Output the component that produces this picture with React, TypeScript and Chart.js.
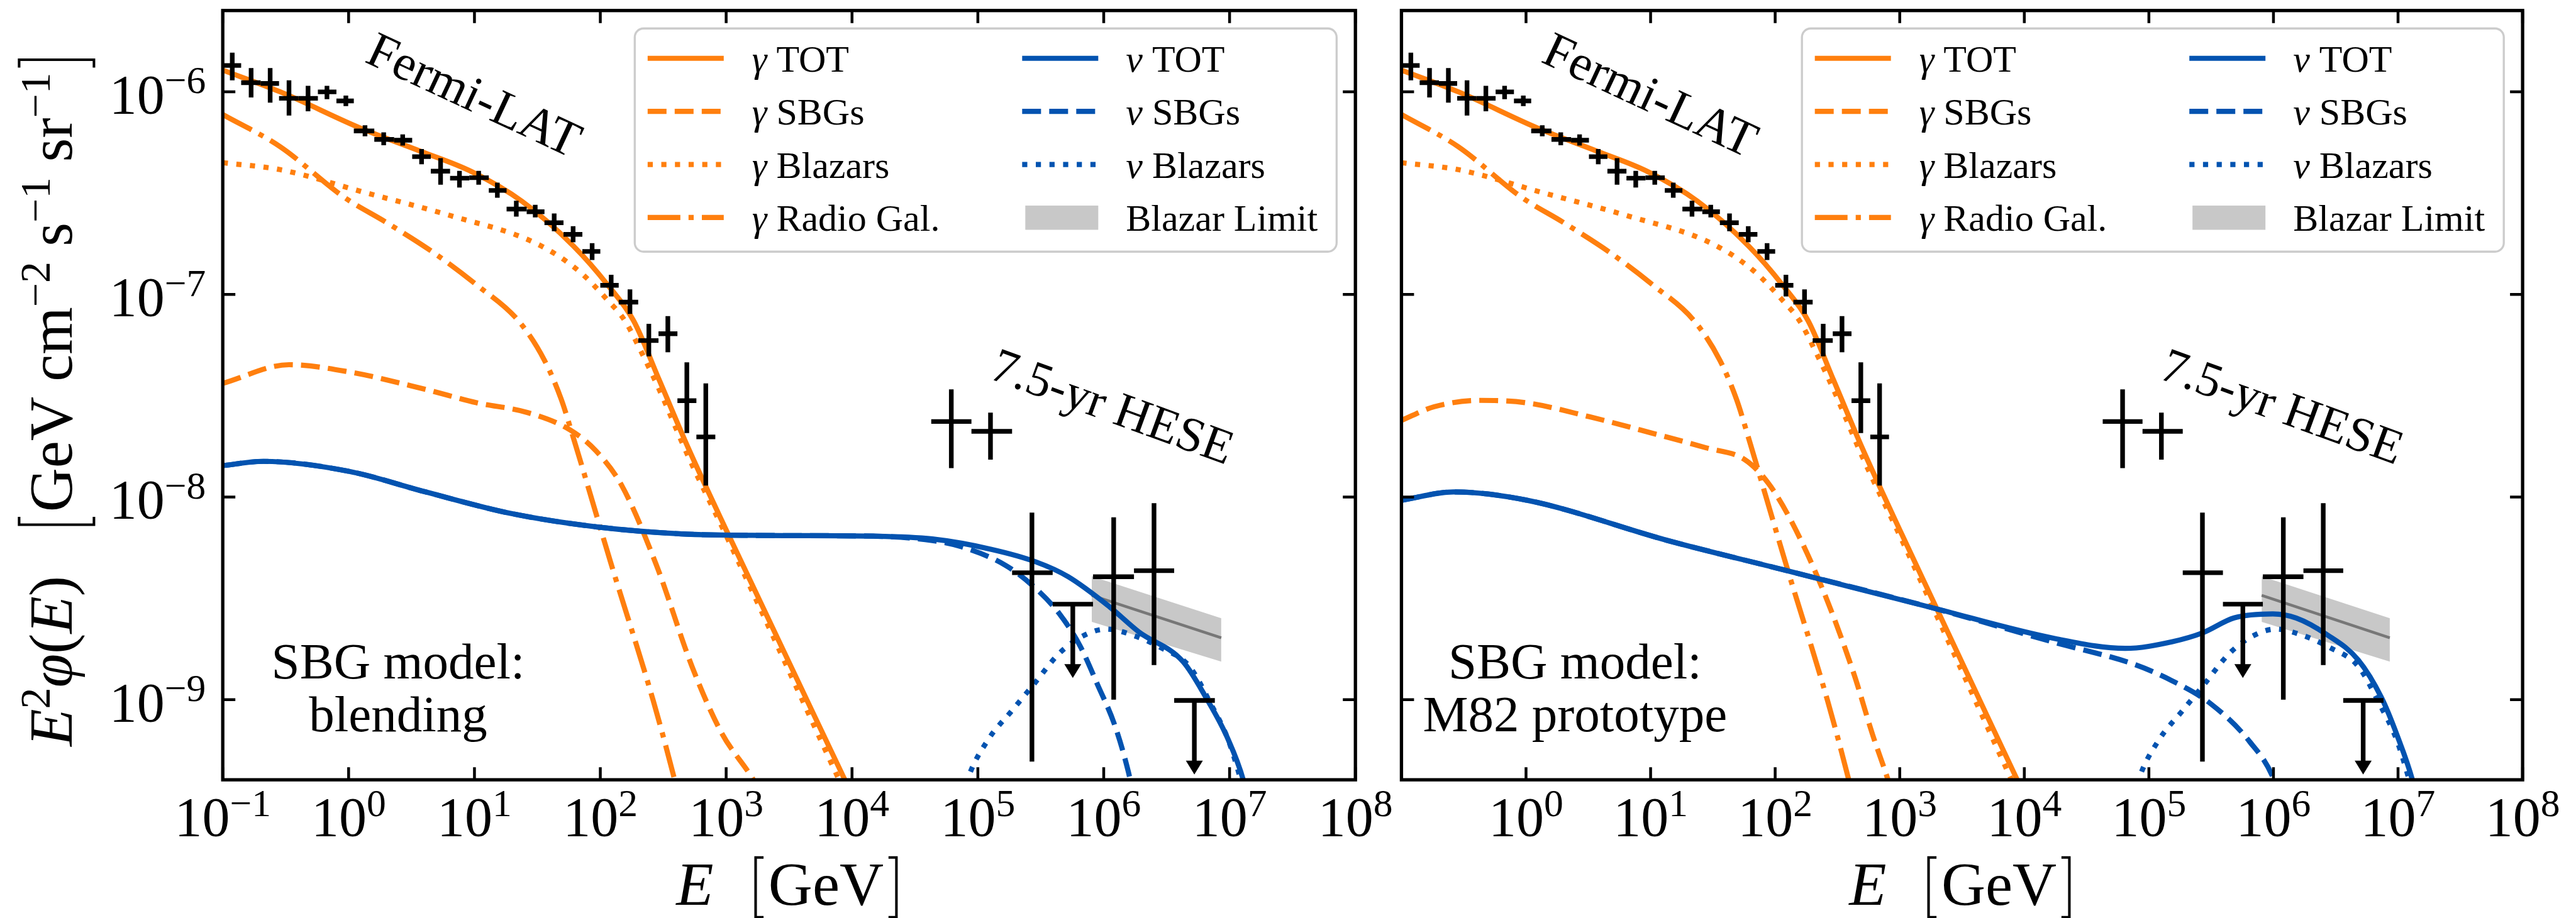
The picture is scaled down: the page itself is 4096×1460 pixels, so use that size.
import { useEffect, useRef } from "react";
import { Chart, registerables } from "chart.js";

Chart.register(...registerables);

const FONT = '"Liberation Serif", "Times New Roman", serif';
const ORANGE = "#ff7f0e";
const BLUE = "#0353b0";
const BAND_FILL = "#c8c8c8";
const BAND_LINE = "#777777";
const LINE_W = 8.2;
const ERR_W = 7.4;
const SPINE_W = 5.3;
const TICK_LEN = 20;
const TICK_W = 4.5;
const HEAD_W = 27;
const HEAD_H = 22;
const DASHED = [30, 13];
const DOTTED = [8.2, 13.5];
const DASHDOT = [52, 13, 8.2, 13];

// Axis ranges and decade ticks
const xRange = [1e-1, 1e8];
const yRange = [4.02e-10, 2.52e-6];
const xTickPowers = [-1, 0, 1, 2, 3, 4, 5, 6, 7, 8];
const yTickPowers = [-9, -8, -7, -6];

// Gamma-ray model curves: E [GeV] and E^2 phi [GeV cm^-2 s^-1 sr^-1]
const gammaTotE = [0.1, 0.286, 1.25, 3.73, 9.55, 23.9, 61.4, 115, 184, 294, 501, 1035, 8770, 15850];
const gammaTotF = [1.28e-6, 1.0e-6, 6.61e-7, 5.09e-7, 4.03e-7, 2.88e-7, 1.73e-7, 1.11e-7, 7.41e-8, 3.78e-8, 1.74e-8, 6.58e-9, 4.02e-10, 1.86e-10];

const gammaBlazarE = [0.1, 0.286, 1.36, 6.44, 30.7, 67.0, 115, 157, 214, 294, 501, 1035, 7943, 15850];
const gammaBlazarF = [4.47e-7, 4.13e-7, 3.18e-7, 2.45e-7, 1.79e-7, 1.31e-7, 9.33e-8, 7.41e-8, 5.13e-8, 3.39e-8, 1.58e-8, 6.17e-9, 3.98e-10, 1.58e-10];

const gammaRadioE = [0.1, 0.286, 0.92, 2.01, 4.72, 10.3, 22.5, 36.0, 49.0, 61.4, 92.3, 123, 263, 388, 562];
const gammaRadioF = [7.73e-7, 5.36e-7, 3.02e-7, 2.26e-7, 1.61e-7, 1.12e-7, 7.38e-8, 4.73e-8, 3.03e-8, 1.94e-8, 8.32e-9, 4.59e-9, 9.91e-10, 4.06e-10, 1.58e-10];

const gammaSbgBlendE = [0.1, 0.337, 1.0, 4.08, 10.4, 26.5, 57.8, 92.3, 148, 280, 537, 912, 1630, 2512];
const gammaSbgBlendF = [3.64e-8, 4.5e-8, 4.15e-8, 3.4e-8, 2.92e-8, 2.61e-8, 2.14e-8, 1.69e-8, 1.14e-8, 4.59e-9, 1.45e-9, 6.92e-10, 4.06e-10, 2.51e-10];

const gammaSbgM82E = [0.1, 0.183, 0.433, 1.0, 3.23, 10.2, 27.8, 57.0, 88.1, 135, 239, 425, 607, 809, 1122];
const gammaSbgM82F = [2.39e-8, 2.79e-8, 3.0e-8, 2.92e-8, 2.49e-8, 2.07e-8, 1.75e-8, 1.53e-8, 1.17e-8, 7.59e-9, 3.54e-9, 1.36e-9, 6.68e-10, 3.98e-10, 2.0e-10];

// Neutrino model curves
const nuTotBlendE = [0.1, 0.211, 1.0, 4.08, 19.4, 92.3, 440, 2089, 14750, 43450, 1.28e5, 2.88e5, 5.2e5, 1.107e6, 1.9e6, 4.27e6, 6.58e6, 9.59e6, 1.29e7, 1.585e7];
const nuTotBlendF = [1.43e-8, 1.5e-8, 1.34e-8, 1.06e-8, 8.3e-9, 7.13e-9, 6.58e-9, 6.46e-9, 6.41e-9, 6.21e-9, 5.52e-9, 4.79e-9, 4.05e-9, 2.88e-9, 2.16e-9, 1.54e-9, 1.01e-9, 6.5e-10, 3.98e-10, 2.24e-10];

const nuSbgBlendE = [0.1, 0.211, 1.0, 4.08, 19.4, 92.3, 440, 2089, 14750, 43450, 74500, 1.67e5, 2.88e5, 4.43e5, 6.46e5, 8.91e5, 1.23e6, 1.57e6, 1.905e6];
const nuSbgBlendF = [1.43e-8, 1.5e-8, 1.34e-8, 1.06e-8, 8.3e-9, 7.13e-9, 6.58e-9, 6.46e-9, 6.41e-9, 6.1e-9, 5.68e-9, 4.59e-9, 3.54e-9, 2.66e-9, 1.85e-9, 1.19e-9, 7.41e-10, 4.4e-10, 2.51e-10];

const nuTotM82E = [0.1, 0.262, 1.02, 13.6, 117, 1786, 17780, 64600, 1.53e5, 2.72e5, 4.82e5, 9.89e5, 1.52e6, 2.7e6, 4.79e6, 7.38e6, 9.84e6, 1.31e7, 1.585e7];
const nuTotM82F = [9.64e-9, 1.06e-8, 9.64e-9, 6.11e-9, 4.37e-9, 2.85e-9, 2.0e-9, 1.79e-9, 1.93e-9, 2.14e-9, 2.53e-9, 2.65e-9, 2.53e-9, 2.09e-9, 1.57e-9, 1.02e-9, 6.65e-10, 3.98e-10, 2.4e-10];

const nuSbgM82E = [0.1, 0.262, 1.02, 13.6, 117, 1786, 17780, 74650, 1.53e5, 3.13e5, 6.43e5, 1.016e6, 1.26e6];
const nuSbgM82F = [9.64e-9, 1.06e-8, 9.64e-9, 6.11e-9, 4.37e-9, 2.85e-9, 1.91e-9, 1.5e-9, 1.24e-9, 9.55e-10, 6.21e-10, 3.98e-10, 2.51e-10];

const nuBlazarE = [70800, 83200, 1.2e5, 1.86e5, 2.72e5, 4.47e5, 6.92e5, 1.047e6, 1.7e6, 2.82e6, 4.79e6, 7.08e6, 9.77e6, 1.26e7, 1.51e7];
const nuBlazarF = [2.82e-10, 4.07e-10, 6.31e-10, 8.81e-10, 1.17e-9, 1.7e-9, 2.07e-9, 2.23e-9, 2.08e-9, 1.81e-9, 1.46e-9, 9.55e-10, 6.31e-10, 3.8e-10, 2.51e-10];

// Blazar limit band (power law)
const blazarLimitE = [8.04e5, 8.59e6];
const blazarLimitF = [3.27e-9, 2.02e-9];
const blazarLimitLo = [2.42e-9, 1.54e-9];
const blazarLimitHi = [4.06e-9, 2.52e-9];

// Fermi-LAT isotropic gamma-ray background
const fermiBinLo = [0.1, 0.14, 0.2, 0.28, 0.4, 0.57, 0.8, 1.1, 1.6, 2.3, 3.2, 4.5, 6.4, 9.1, 13, 18, 26, 36, 51, 72, 100, 140, 200, 290, 410, 580];
const fermiBinHi = [0.14, 0.2, 0.28, 0.4, 0.57, 0.8, 1.1, 1.6, 2.3, 3.2, 4.5, 6.4, 9.1, 13, 18, 26, 36, 51, 72, 100, 140, 200, 290, 410, 580, 820];
const fermiE = [0.119, 0.168, 0.238, 0.336, 0.476, 0.673, 0.951, 1.35, 1.9, 2.69, 3.8, 5.38, 7.6, 10.8, 15.2, 21.5, 30.4, 43.0, 60.8, 86.1, 122, 172, 243, 344, 487, 689];
const fermiF = [1.35e-6, 1.11e-6, 1.1e-6, 9.29e-7, 9.29e-7, 1.0e-6, 9.02e-7, 6.41e-7, 5.82e-7, 5.77e-7, 4.79e-7, 4.06e-7, 3.75e-7, 3.77e-7, 3.26e-7, 2.64e-7, 2.56e-7, 2.26e-7, 1.98e-7, 1.63e-7, 1.11e-7, 9.16e-8, 5.92e-8, 6.4e-8, 2.99e-8, 1.98e-8];
const fermiFLo = [1.14e-6, 9.38e-7, 8.85e-7, 7.64e-7, 8.02e-7, 9.2e-7, 8.51e-7, 6.03e-7, 5.45e-7, 5.43e-7, 4.39e-7, 3.48e-7, 3.37e-7, 3.48e-7, 3.0e-7, 2.42e-7, 2.4e-7, 2.05e-7, 1.81e-7, 1.48e-7, 9.77e-8, 8.02e-8, 4.95e-8, 5.18e-8, 2.07e-8, 1.14e-8];
const fermiFHi = [1.56e-6, 1.31e-6, 1.31e-6, 1.14e-6, 1.07e-6, 1.07e-6, 9.59e-7, 6.84e-7, 6.31e-7, 6.17e-7, 5.22e-7, 4.71e-7, 4.07e-7, 4.07e-7, 3.56e-7, 2.9e-7, 2.77e-7, 2.51e-7, 2.17e-7, 1.79e-7, 1.25e-7, 1.06e-7, 7.16e-8, 7.82e-8, 4.62e-8, 3.64e-8];

// IceCube 7.5-yr HESE unfolded flux (upper limits: FLo holds the arrow tip)
const heseBinLo = [4.26e4, 8.89e4, 1.87e5, 3.93e5, 8.22e5, 1.74e6, 3.63e6];
const heseBinHi = [8.89e4, 1.87e5, 3.93e5, 8.22e5, 1.74e6, 3.63e6, 7.64e6];
const heseE = [6.15e4, 1.26e5, 2.69e5, 5.68e5, 1.2e6, 2.51e6, 5.25e6];
const heseF = [2.36e-8, 2.11e-8, 4.23e-9, 2.96e-9, 4.04e-9, 4.33e-9, 9.91e-10];
const heseFLo = [1.39e-8, 1.53e-8, 4.94e-10, 1.28e-9, 1.0e-9, 1.48e-9, 4.27e-10];
const heseFHi = [3.4e-8, 2.61e-8, 8.38e-9, null, 7.94e-9, 9.33e-9, null];
const heseUpperLimit = [false, false, false, true, false, false, true];

const CANVAS_W = 4096;
const CANVAS_H = 1460;
const PLOT_TOP = 16.75;
const PLOT_BOTTOM = 1240.2;

type Seg = { t?: string; it?: boolean; sup?: boolean; br?: "[" | "]"; gap?: number };

function fontFor(s: Seg, size: number) {
  const px = s.sup ? size * 0.7 : size;
  return `${s.it ? "italic " : ""}${px}px ${FONT}`;
}

function segWidth(ctx: CanvasRenderingContext2D, s: Seg, size: number) {
  if (s.gap) return s.gap * size;
  if (s.br) return 0.3 * size;
  ctx.font = fontFor(s, size);
  return ctx.measureText(s.t || "").width;
}

function drawRich(
  ctx: CanvasRenderingContext2D,
  segs: Seg[],
  x: number,
  y: number,
  size: number,
  align: "left" | "center" | "right",
  brUp = 0.75 * size,
  brDown = 0.2 * size
) {
  const ws = segs.map((s) => segWidth(ctx, s, size));
  const total = ws.reduce((a, b) => a + b, 0);
  let cx = align === "left" ? x : align === "right" ? x - total : x - total / 2;
  ctx.textAlign = "left";
  ctx.textBaseline = "alphabetic";
  ctx.fillStyle = "#000";
  segs.forEach((s, i) => {
    if (s.br) {
      const stem = s.br === "[" ? cx + 0.09 * size : cx + 0.21 * size;
      const serif = s.br === "[" ? 0.13 * size : -0.13 * size;
      ctx.beginPath();
      ctx.moveTo(stem + serif, y - brUp);
      ctx.lineTo(stem, y - brUp);
      ctx.lineTo(stem, y + brDown);
      ctx.lineTo(stem + serif, y + brDown);
      ctx.lineWidth = 0.042 * size;
      ctx.strokeStyle = "#000";
      ctx.lineJoin = "miter";
      ctx.setLineDash([]);
      ctx.stroke();
    } else if (s.t) {
      ctx.font = fontFor(s, size);
      ctx.fillText(s.t, cx, s.sup ? y - 0.36 * size : y);
    }
    cx += ws[i];
  });
  return total;
}

function powerLabel(p: number): Seg[] {
  return [{ t: "10" }, { t: p < 0 ? "\u2212" + -p : String(p), sup: true }];
}

function labelSegs(label: string): Seg[] {
  if (label.startsWith("\u03b3") || label.startsWith("\u03bd")) {
    return [{ t: label[0], it: true }, { t: label.slice(1) }];
  }
  return [{ t: label }];
}

function drawErrorBars(ctx: CanvasRenderingContext2D, xs: any, ys: any, ds: any) {
  const eb = ds.errorBars;
  ctx.strokeStyle = "#000";
  ctx.fillStyle = "#000";
  ctx.lineWidth = ERR_W;
  ctx.lineCap = "butt";
  ctx.setLineDash([]);
  ds.data.forEach((pt: any, i: number) => {
    const px = xs.getPixelForValue(pt.x);
    const py = ys.getPixelForValue(pt.y);
    ctx.beginPath();
    ctx.moveTo(xs.getPixelForValue(eb.xLo[i]), py);
    ctx.lineTo(xs.getPixelForValue(eb.xHi[i]), py);
    if (eb.upper && eb.upper[i]) {
      const tip = ys.getPixelForValue(eb.yLo[i]);
      ctx.moveTo(px, py);
      ctx.lineTo(px, tip - HEAD_H + 2);
      ctx.stroke();
      ctx.beginPath();
      ctx.moveTo(px - HEAD_W / 2, tip - HEAD_H);
      ctx.lineTo(px + HEAD_W / 2, tip - HEAD_H);
      ctx.lineTo(px, tip);
      ctx.closePath();
      ctx.fill();
    } else {
      ctx.moveTo(px, ys.getPixelForValue(eb.yLo[i]));
      ctx.lineTo(px, ys.getPixelForValue(eb.yHi[i]));
      ctx.stroke();
    }
  });
}

const legendColumns = [
  ["\u03b3 TOT", "\u03b3 SBGs", "\u03b3 Blazars", "\u03b3 Radio Gal."],
  ["\u03bd TOT", "\u03bd SBGs", "\u03bd Blazars", "Blazar Limit"],
];

function drawLegend(ctx: CanvasRenderingContext2D, chart: any) {
  const a = chart.chartArea;
  const boxW = 1116;
  const boxH = 355;
  const bx = a.right - 29.9 - boxW;
  const by = a.top + 28.5;
  const r = 14;
  ctx.save();
  ctx.beginPath();
  ctx.moveTo(bx + r, by);
  ctx.arcTo(bx + boxW, by, bx + boxW, by + boxH, r);
  ctx.arcTo(bx + boxW, by + boxH, bx, by + boxH, r);
  ctx.arcTo(bx, by + boxH, bx, by, r);
  ctx.arcTo(bx, by, bx + boxW, by, r);
  ctx.closePath();
  ctx.fillStyle = "rgba(255,255,255,0.8)";
  ctx.fill();
  ctx.lineWidth = 3.3;
  ctx.strokeStyle = "#cccccc";
  ctx.setLineDash([]);
  ctx.stroke();

  const colHandle = [
    [20.5, 141.5],
    [616, 737],
  ];
  const colText = [186.5, 781];
  const datasets = chart.data.datasets;
  legendColumns.forEach((col, c) => {
    col.forEach((label, rIdx) => {
      const ds = datasets.find((d: any) => d.label === label);
      if (!ds) return;
      const yc = by + 47.5 + rIdx * 84.4;
      const [h0, h1] = colHandle[c];
      if (ds.legendPatch) {
        ctx.fillStyle = ds.backgroundColor;
        ctx.fillRect(bx + h0 + 5, yc - 19, h1 - h0 - 5, 38.5);
      } else {
        ctx.beginPath();
        ctx.setLineDash(ds.borderDash || []);
        ctx.lineDashOffset = 0;
        ctx.lineCap = "butt";
        ctx.lineWidth = ds.borderWidth;
        ctx.strokeStyle = ds.borderColor;
        ctx.moveTo(bx + h0, yc);
        ctx.lineTo(bx + h1, yc);
        ctx.stroke();
        ctx.setLineDash([]);
      }
      drawRich(ctx, labelSegs(label), bx + colText[c], yc + 21, 60, "left");
    });
  });
  ctx.restore();
}

function makeDecorPlugin(spec: any) {
  return {
    id: "panelDecor",
    afterDatasetsDraw(chart: any) {
      const { ctx, chartArea: a, scales } = chart;
      const xs = scales.x;
      const ys = scales.y;
      const W = a.right - a.left;
      const H = a.bottom - a.top;

      ctx.save();
      ctx.beginPath();
      ctx.rect(a.left, a.top, W, H);
      ctx.clip();
      chart.data.datasets.forEach((ds: any) => {
        if (ds.errorBars) drawErrorBars(ctx, xs, ys, ds);
      });
      ctx.restore();

      ctx.save();
      // frame
      ctx.setLineDash([]);
      ctx.strokeStyle = "#000";
      ctx.lineWidth = SPINE_W;
      ctx.lineJoin = "miter";
      ctx.strokeRect(a.left, a.top, W, H);

      // inward ticks on all four sides
      ctx.lineWidth = TICK_W;
      ctx.lineCap = "butt";
      ctx.beginPath();
      xTickPowers.forEach((p) => {
        const x = xs.getPixelForValue(Math.pow(10, p));
        ctx.moveTo(x, a.bottom);
        ctx.lineTo(x, a.bottom - TICK_LEN);
        ctx.moveTo(x, a.top);
        ctx.lineTo(x, a.top + TICK_LEN);
      });
      yTickPowers.forEach((p) => {
        const y = ys.getPixelForValue(Math.pow(10, p));
        ctx.moveTo(a.left, y);
        ctx.lineTo(a.left + TICK_LEN, y);
        ctx.moveTo(a.right, y);
        ctx.lineTo(a.right - TICK_LEN, y);
      });
      ctx.stroke();

      // tick labels
      xTickPowers.forEach((p) => {
        if (p < spec.firstXLabel) return;
        const x = xs.getPixelForValue(Math.pow(10, p));
        drawRich(ctx, powerLabel(p), x, a.bottom + 89, 88, "center");
      });
      if (spec.yAxisText) {
        yTickPowers.forEach((p) => {
          const y = ys.getPixelForValue(Math.pow(10, p));
          drawRich(ctx, powerLabel(p), a.left - 27, y + 34, 88, "right");
        });
      }

      // axis titles
      drawRich(
        ctx,
        [{ t: "E", it: true }, { gap: 0.6 }, { br: "[" }, { t: "GeV" }, { br: "]" }],
        (a.left + a.right) / 2,
        a.bottom + 198.5,
        97,
        "center",
        75,
        20
      );
      if (spec.yAxisText) {
        ctx.save();
        ctx.translate(114.4, (a.top + a.bottom) / 2 + 8);
        ctx.rotate(-Math.PI / 2);
        drawRich(
          ctx,
          [
            { t: "E", it: true },
            { t: "2", sup: true },
            { t: "\u03c6", it: true },
            { t: "(" },
            { t: "E", it: true },
            { t: ")" },
            { gap: 0.75 },
            { br: "[" },
            { t: "GeV cm" },
            { t: "\u22122", sup: true },
            { t: " s" },
            { t: "\u22121", sup: true },
            { t: " sr" },
            { t: "\u22121", sup: true },
            { br: "]" },
          ],
          0,
          0,
          97,
          "center",
          84,
          35
        );
        ctx.restore();
      }

      // annotations
      ctx.fillStyle = "#000";
      ctx.textAlign = "center";
      ctx.textBaseline = "middle";
      ctx.save();
      ctx.translate(a.left + 0.2209 * W, a.top + 0.1135 * H);
      ctx.rotate((25 * Math.PI) / 180);
      ctx.font = `80px ${FONT}`;
      ctx.fillText("Fermi-LAT", 0, 0);
      ctx.restore();

      ctx.save();
      ctx.translate(a.left + 0.7848 * W, a.top + 0.5185 * H);
      ctx.rotate((20 * Math.PI) / 180);
      ctx.font = `78px ${FONT}`;
      ctx.fillText("7.5-yr HESE", 0, 0);
      ctx.restore();

      ctx.textBaseline = "alphabetic";
      ctx.font = `81px ${FONT}`;
      const cx = a.left + 0.1548 * W;
      ctx.fillText(spec.caption[0], cx, a.top + 0.868 * H);
      ctx.fillText(spec.caption[1], cx, a.top + 0.937 * H);
      ctx.restore();

      drawLegend(ctx, chart);
    },
  };
}

function pts(E: number[], F: number[]) {
  return E.map((x, i) => ({ x, y: F[i] }));
}

function curve(label: string, E: number[], F: number[], color: string, dash: number[], order: number) {
  return {
    label,
    data: pts(E, F),
    borderColor: color,
    backgroundColor: color,
    borderWidth: LINE_W,
    borderDash: dash,
    borderJoinStyle: "round",
    borderCapStyle: "butt",
    pointRadius: 0,
    pointHoverRadius: 0,
    fill: false,
    cubicInterpolationMode: "monotone",
    clip: 0,
    order,
  };
}

function makeConfig(spec: any) {
  const datasets: any[] = [
    curve("\u03b3 TOT", gammaTotE, gammaTotF, ORANGE, [], 4),
    curve("\u03b3 SBGs", spec.gammaSbg[0], spec.gammaSbg[1], ORANGE, DASHED, 5),
    curve("\u03b3 Blazars", gammaBlazarE, gammaBlazarF, ORANGE, DOTTED, 6),
    curve("\u03b3 Radio Gal.", gammaRadioE, gammaRadioF, ORANGE, DASHDOT, 7),
    curve("\u03bd TOT", spec.nuTot[0], spec.nuTot[1], BLUE, [], 1),
    curve("\u03bd SBGs", spec.nuSbg[0], spec.nuSbg[1], BLUE, DASHED, 2),
    curve("\u03bd Blazars", nuBlazarE, nuBlazarF, BLUE, DOTTED, 3),
    {
      label: "Blazar Limit",
      legendPatch: true,
      data: pts(blazarLimitE, blazarLimitHi),
      borderWidth: 0,
      borderColor: "rgba(0,0,0,0)",
      backgroundColor: BAND_FILL,
      pointRadius: 0,
      fill: { target: "+1" },
      clip: 0,
      order: 50,
    },
    {
      label: "Blazar Limit lower",
      data: pts(blazarLimitE, blazarLimitLo),
      borderWidth: 0,
      borderColor: "rgba(0,0,0,0)",
      pointRadius: 0,
      fill: false,
      clip: 0,
      order: 51,
    },
    {
      label: "Blazar Limit best fit",
      data: pts(blazarLimitE, blazarLimitF),
      borderWidth: 4.5,
      borderColor: BAND_LINE,
      pointRadius: 0,
      fill: false,
      clip: 0,
      order: 45,
    },
    {
      label: "Fermi-LAT",
      data: pts(fermiE, fermiF),
      showLine: false,
      pointRadius: 0,
      errorBars: { xLo: fermiBinLo, xHi: fermiBinHi, yLo: fermiFLo, yHi: fermiFHi },
      order: 0,
    },
    {
      label: "7.5-yr HESE",
      data: pts(heseE, heseF),
      showLine: false,
      pointRadius: 0,
      errorBars: { xLo: heseBinLo, xHi: heseBinHi, yLo: heseFLo, yHi: heseFHi, upper: heseUpperLimit },
      order: 0,
    },
  ];

  return {
    type: "line",
    data: { datasets },
    options: {
      animation: false,
      responsive: false,
      devicePixelRatio: 1,
      events: [],
      layout: {
        padding: {
          left: spec.left,
          right: CANVAS_W - spec.right,
          top: PLOT_TOP,
          bottom: CANVAS_H - PLOT_BOTTOM,
        },
      },
      scales: {
        x: { type: "logarithmic", min: xRange[0], max: xRange[1], bounds: "data", display: false },
        y: { type: "logarithmic", min: yRange[0], max: yRange[1], bounds: "data", display: false },
      },
      plugins: {
        legend: { display: false },
        tooltip: { enabled: false },
        title: { display: false },
      },
    },
    plugins: [makeDecorPlugin(spec)],
  };
}

const panelSpecs = [
  {
    left: 354.2,
    right: 2155.2,
    caption: ["SBG model:", "blending"],
    gammaSbg: [gammaSbgBlendE, gammaSbgBlendF],
    nuTot: [nuTotBlendE, nuTotBlendF],
    nuSbg: [nuSbgBlendE, nuSbgBlendF],
    yAxisText: true,
    firstXLabel: -1,
  },
  {
    left: 2228.4,
    right: 4011.1,
    caption: ["SBG model:", "M82 prototype"],
    gammaSbg: [gammaSbgM82E, gammaSbgM82F],
    nuTot: [nuTotM82E, nuTotM82F],
    nuSbg: [nuSbgM82E, nuSbgM82F],
    yAxisText: false,
    firstXLabel: 0,
  },
];

export default function App() {
  const leftRef = useRef<HTMLCanvasElement>(null);
  const rightRef = useRef<HTMLCanvasElement>(null);

  useEffect(() => {
    const charts: Chart[] = [];
    [leftRef.current, rightRef.current].forEach((cv, i) => {
      if (cv) charts.push(new Chart(cv, makeConfig(panelSpecs[i]) as any));
    });
    return () => charts.forEach((c) => c.destroy());
  }, []);

  const canvasStyle: any = { position: "absolute", left: 0, top: 0, width: CANVAS_W, height: CANVAS_H };
  return (
    <div style={{ position: "fixed", left: 0, top: 0, width: CANVAS_W, height: CANVAS_H, background: "#ffffff", overflow: "hidden" }}>
      <canvas ref={leftRef} width={CANVAS_W} height={CANVAS_H} style={canvasStyle} />
      <canvas ref={rightRef} width={CANVAS_W} height={CANVAS_H} style={canvasStyle} />
    </div>
  );
}
